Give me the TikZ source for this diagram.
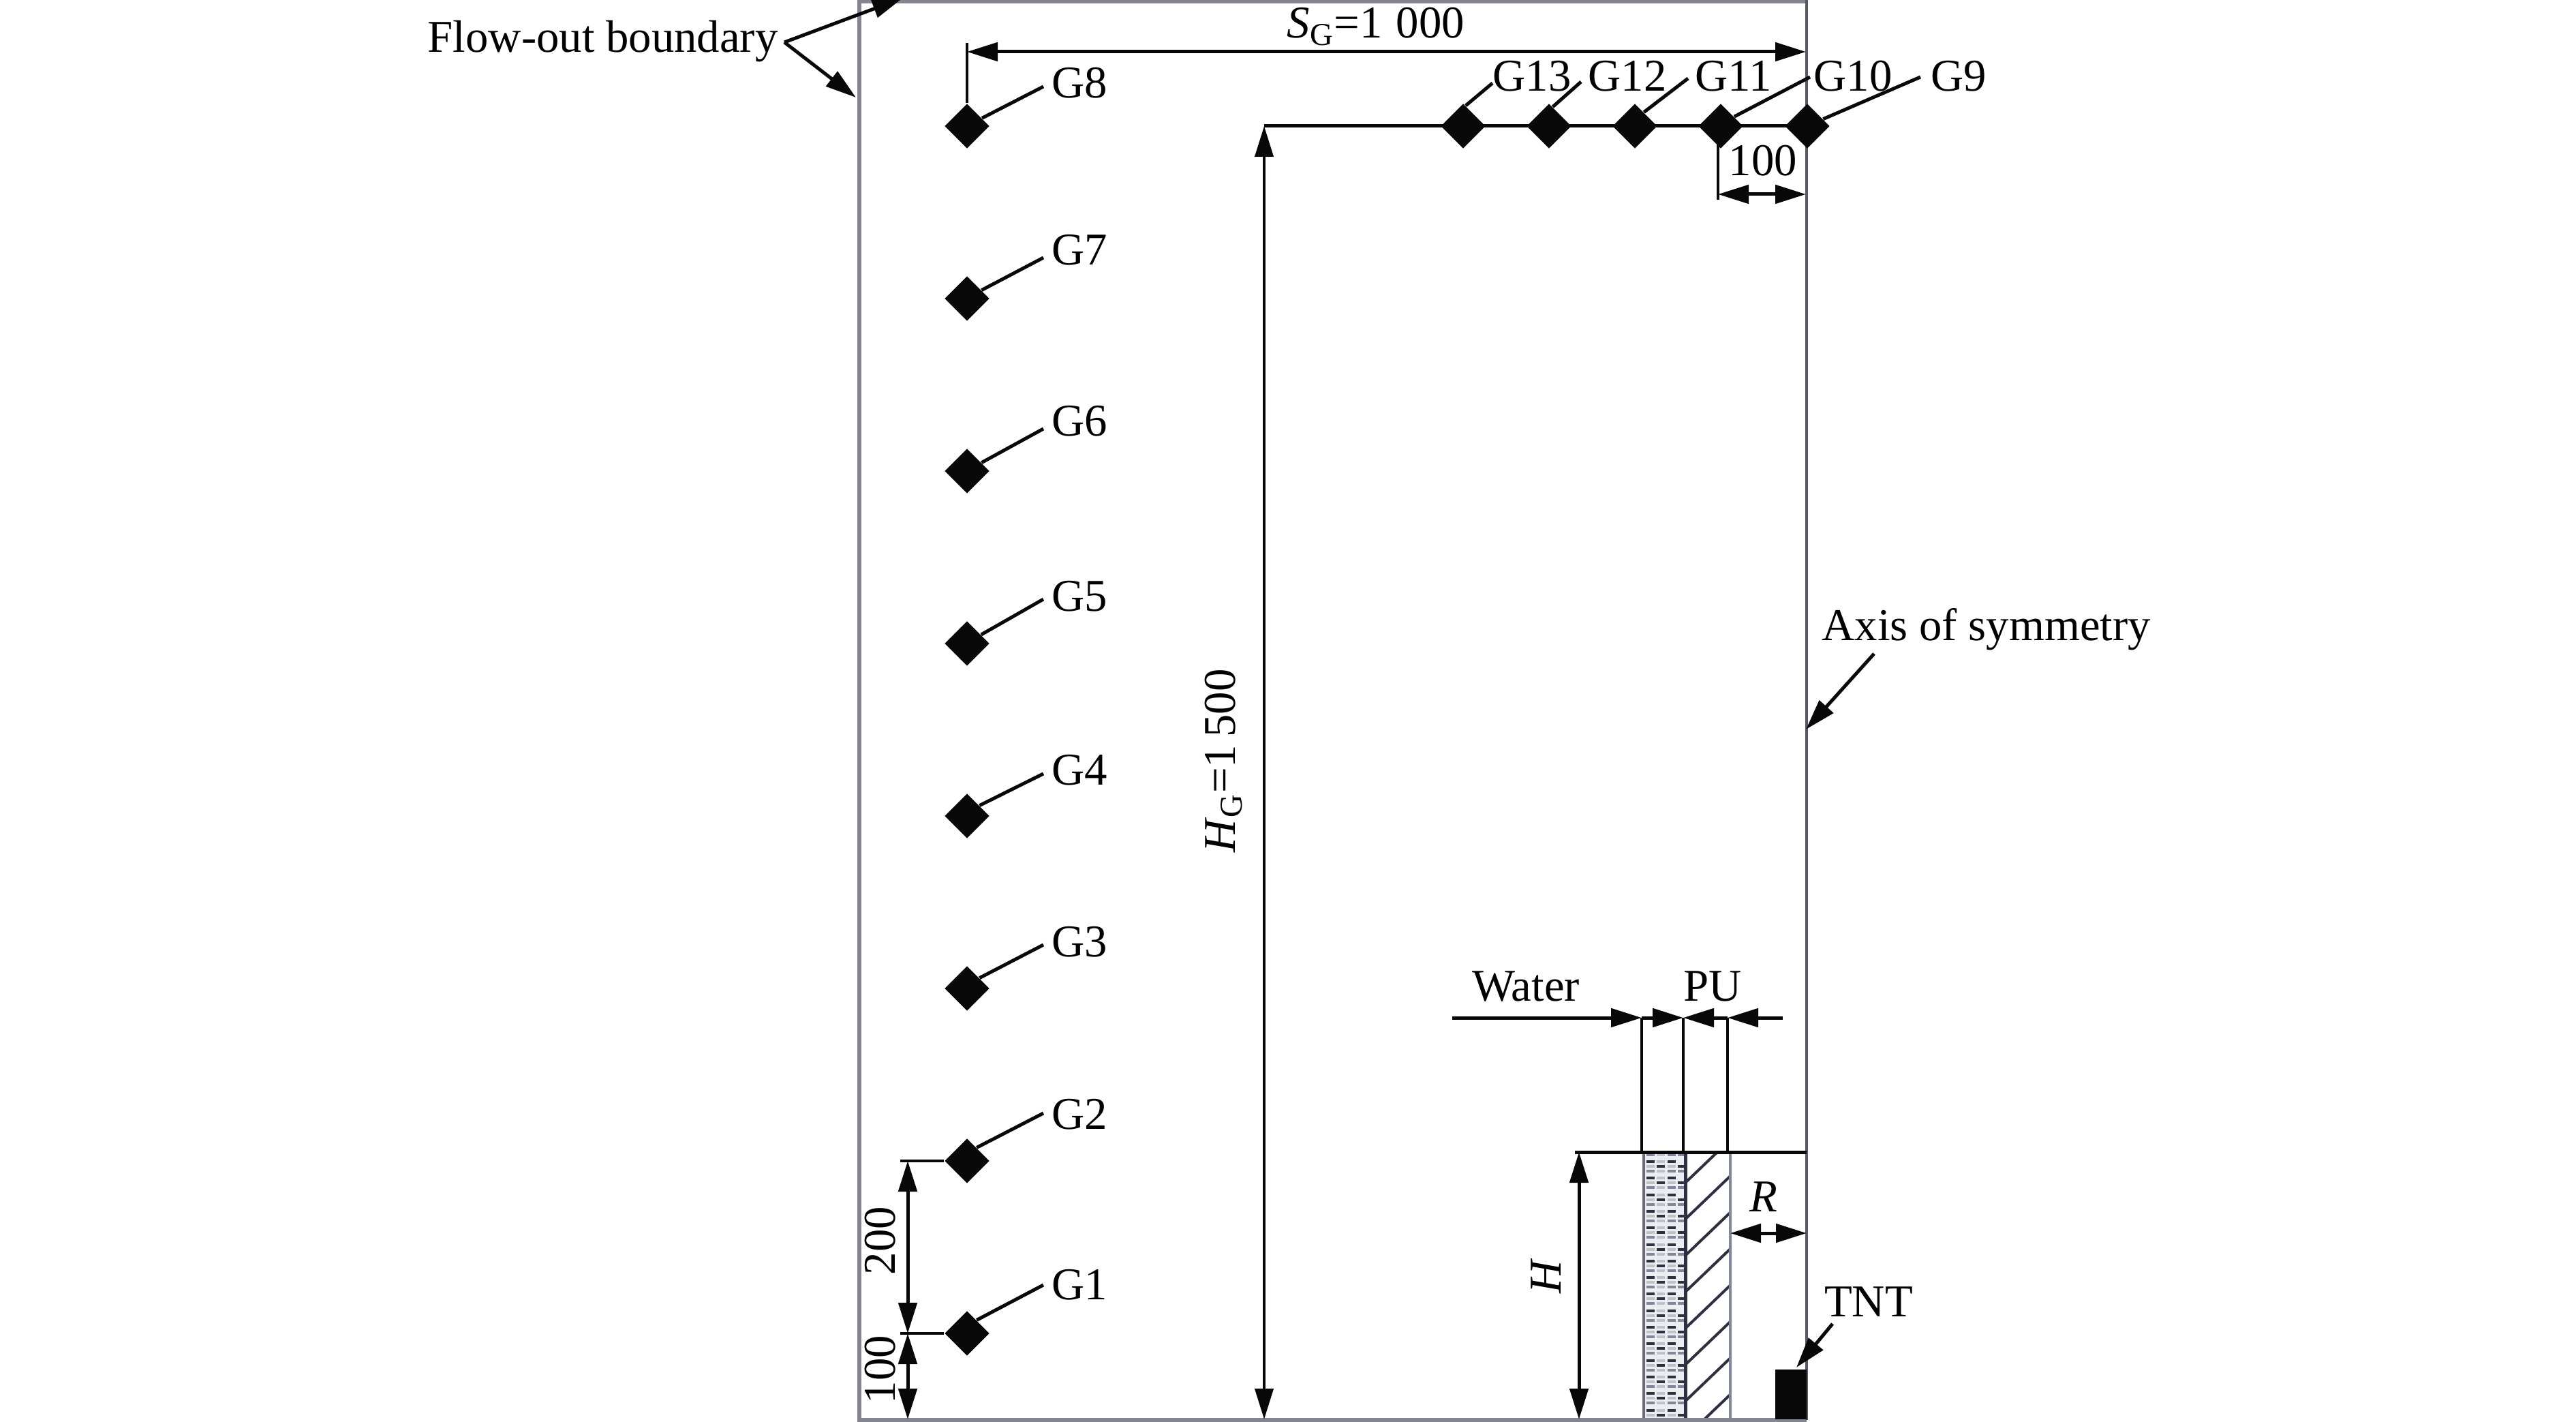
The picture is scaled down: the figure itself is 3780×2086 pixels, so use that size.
\documentclass[tikz,border=0pt]{standalone}
\usepackage{fontspec}
\setmainfont{Liberation Serif}
\usepackage{xcolor}
\usetikzlibrary{arrows.meta,shapes.geometric}

\definecolor{frameline}{HTML}{83868F}
\definecolor{axisline}{HTML}{555866}
\definecolor{layerdark}{HTML}{2E3040}
\definecolor{layermid}{HTML}{82869A}
\definecolor{layerlight}{HTML}{BFC2CA}
\definecolor{waterbase}{HTML}{ECEDF0}
\newcommand{\numgap}[1]{\spaceskip=#1\relax}

\tikzset{
  >={Triangle[length=4.5mm,width=2.7mm]},
  every node/.style={font=\fontsize{19}{22}\selectfont, inner sep=0pt, text=black},
  sensor/.style={diamond, fill=black!97, minimum width=6.6mm, minimum height=6.6mm},
  leader/.style={line width=0.5mm, black!97},
  dim/.style={line width=0.5mm, black!97, <->},
  pointer/.style={line width=0.5mm, black!97, ->},
  tick/.style={line width=0.4mm, black!97}
}

\begin{document}
\begin{tikzpicture}[x=0.1mm,y=-0.1mm]
  \useasboundingbox (0,0) rectangle (3780,2086);

  \fill[waterbase] (2412,1690) rectangle (2473,2082);
  \begin{scope}
    \clip (2412,1690) rectangle (2473,2082);
    \foreach \k in {-1,...,16} {
      \pgfmathsetmacro{\ya}{1704+24.3*\k}
      \pgfmathsetmacro{\yb}{\ya+7}
      \pgfmathsetmacro{\yc}{\ya+14}
      \foreach \cx/\ca/\cb/\cc in {2422/layerdark/layerlight/layermid, 2437/layerlight/layerdark/layerlight,
        2453/layerdark/layerlight/layermid, 2468/waterbase/layerdark/layermid} {
        \draw[\ca, line width=0.4mm] (\cx-6,\ya) -- (\cx+6,\ya);
        \draw[\cb, line width=0.4mm] (\cx-6,\yb) -- (\cx+6,\yb);
        \draw[\cc, line width=0.4mm] (\cx-6,\yc) -- (\cx+6,\yc);
      }
    }
  \end{scope}
  \begin{scope}
    \clip (2473,1690) rectangle (2539,2082);
    \foreach \k in {0,...,7} {
      \pgfmathsetmacro{\ya}{1735+53.4*\k}
      \draw[layerdark, line width=0.4mm] (2473,\ya) -- ++(70,-67);
    }
  \end{scope}
  \draw[layermid!70!layerdark, line width=0.4mm] (2412,1690) -- (2412,2082);
  \draw[layerdark, line width=0.5mm] (2473,1690) -- (2473,2082);
  \draw[layermid, line width=0.4mm] (2539,1690) -- (2539,2082);

  \draw[frameline, line width=0.55mm] (2651,2) -- (1261,2) -- (1261,2083) -- (2651,2083);
  \draw[axisline, line width=0.35mm] (2651,0) -- (2651,2083);

  \node[anchor=base west] (flowout) at (627,77) {Flow-out boundary};
  \coordinate (flowapex) at (1151,62);
  \coordinate (flowtop) at (1325,-3);
  \coordinate (flowleft) at (1256,143);
  \draw[pointer] (flowapex) -- (flowtop);
  \draw[pointer] (flowapex) -- (flowleft);

  \foreach \n/\ly/\dy/\ey/\a in {G1/1885/1956/1885/54, G2/1635/1703/1633/54, G3/1382/1450/1386/40, G4/1130/1197/1135/40,
    G5/875/944/879/32, G6/618/691/629/30, G7/367/438/378/30, G8/122/185/127/28} {
    \node[sensor] (d\n) at (1419,\dy) {};
    \node[anchor=west] (l\n) at (1543,\ly) {\n};
    \coordinate (e\n) at (1531,\ey);
    \draw[leader] (d\n.\a) -- (e\n);
  }
  \coordinate (hgtop) at (1855,185);
  \coordinate (hgbot) at (1855,2082);
  \draw[leader] (hgtop) -- (2652,185);
  \foreach \n/\dx/\lx/\ex/\ey/\a in {G9/2652/2833/2818/113/24, G10/2525/2661/2656/113/35, G11/2399/2487/2477/115/57,
    G12/2273/2330/2320/120/79, G13/2147/2190/2190/122/83} {
    \node[sensor] (d\n) at (\dx,185) {};
    \node[anchor=west] (l\n) at (\lx,112) {\n};
    \coordinate (e\n) at (\ex,\ey);
    \draw[leader] (d\n.\a) -- (e\n);
  }

  \coordinate (sgleft) at (1419,76);
  \coordinate (sgright) at (2650,76);
  \coordinate (sgtick) at (1419,63);
  \draw[tick] (sgtick) -- (dG8);
  \draw[dim] (sgleft) -- (sgright);
  \node[anchor=base] (sglabel) at (2019,56) {\numgap{.3em}\textit{S}\textsubscript{G}=1 000};
  \draw[dim, line width=0.4mm] (hgtop) -- (hgbot);
  \node[anchor=base, rotate=90] (hglabel) at (1812,1116) {\numgap{.17em}\textit{H}\textsubscript{G}=1 500};

  \coordinate (gaptop) at (2521,190);
  \coordinate (gapbot) at (2521,293);
  \coordinate (gapleft) at (2521,285);
  \coordinate (gapright) at (2650,285);
  \draw[tick] (gaptop) -- (gapbot);
  \draw[dim] (gapleft) -- (gapright);
  \node[anchor=base] (gaplabel) at (2587,258) {100};

  \coordinate (lowtick) at (1321,1956);
  \coordinate (midtick) at (1321,1703);
  \coordinate (lowdim) at (1332,1956);
  \coordinate (middim) at (1332,1703);
  \coordinate (botdim) at (1332,2082);
  \draw[tick] (midtick) -- (dG2);
  \draw[tick] (lowtick) -- (dG1);
  \draw[dim] (middim) -- (lowdim);
  \draw[dim] (lowdim) -- (botdim);
  \node[anchor=base, rotate=90] (twohundred) at (1313,1820) {200};
  \node[anchor=base, rotate=90] (onehundred) at (1313,2009) {100};

  \node[anchor=base west] (axislabel) at (2673,939) {Axis of symmetry};
  \coordinate (axisfrom) at (2750,959);
  \coordinate (axisto) at (2650,1070);
  \draw[pointer] (axisfrom) -- (axisto);

  \node[anchor=base] (waterlabel) at (2239,1468) {Water};
  \node[anchor=base] (pulabel) at (2513,1468) {PU};
  \coordinate (wateredge) at (2409,1493);
  \coordinate (watermid) at (2470,1493);
  \coordinate (puedge) at (2535,1493);
  \coordinate (waterfrom) at (2131,1493);
  \coordinate (pufrom) at (2616,1493);
  \foreach \c in {wateredge, watermid, puedge}
    \draw[tick] (\c) -- (\c |- 0,1690);
  \draw[pointer] (waterfrom) -- (wateredge);
  \draw[pointer] (wateredge) -- (watermid);
  \draw[pointer] (puedge) -- (watermid);
  \draw[pointer] (pufrom) -- (puedge);

  \coordinate (hleft) at (2311,1690);
  \coordinate (hright) at (2651,1690);
  \draw[leader] (hleft) -- (hright);
  \coordinate (hup) at (2317,1690);
  \coordinate (hdown) at (2317,2082);
  \draw[dim] (hup) -- (hdown);
  \node[anchor=base, rotate=90] (hlabel) at (2290,1872) {\textit{H}};

  \coordinate (rleft) at (2539,1809);
  \coordinate (rright) at (2651,1809);
  \draw[dim] (rleft) -- (rright);
  \node[anchor=base] (rlabel) at (2588,1777) {\textit{R}};

  \fill[black!97] (2605,2009) rectangle (2651,2082);
  \node[anchor=base] (tntlabel) at (2742,1931) {TNT};
  \coordinate (tntfrom) at (2689,1942);
  \coordinate (tntto) at (2636,2006);
  \draw[pointer] (tntfrom) -- (tntto);
\end{tikzpicture}
\end{document}
